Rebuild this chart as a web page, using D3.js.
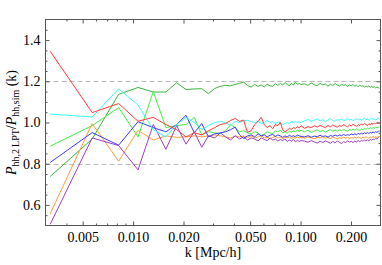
<!DOCTYPE html>
<html>
<head>
<meta charset="utf-8">
<script src="https://cdn.jsdelivr.net/npm/d3@7"></script>
<style>
  body { margin: 0; background: #fff; }
  svg text { font-family: "Liberation Serif", "DejaVu Serif", serif; }
</style>
</head>
<body>
<svg width="382" height="265"></svg>
<script>
// k bins [Mpc/h]
const kValues = [
  0.0032, 0.0057, 0.0082, 0.0107, 0.0132, 0.0157, 0.0182, 0.0207, 0.0232, 0.0257,
  0.0282, 0.0307, 0.0332, 0.0357, 0.0382, 0.0407, 0.0432, 0.0457, 0.0482, 0.0507,
  0.0532, 0.0557, 0.0582, 0.0607, 0.0632, 0.0657, 0.0682, 0.0707, 0.0732, 0.0757,
  0.0782, 0.0807, 0.0832, 0.0857, 0.0882, 0.0907, 0.0932, 0.0957, 0.0982, 0.1007,
  0.1057, 0.1107, 0.1157, 0.1207, 0.1257, 0.1307, 0.1357, 0.1407, 0.1457, 0.1507,
  0.1557, 0.1607, 0.1657, 0.1707, 0.1757, 0.1807, 0.1857, 0.1907, 0.1957, 0.2007,
  0.2057, 0.2107, 0.2157, 0.2207, 0.2257, 0.2307, 0.2357, 0.2407, 0.2457, 0.2507,
  0.2557, 0.2607, 0.2657, 0.2707, 0.2757, 0.2807, 0.2857, 0.2907, 0.2957
];

const ratioRed = [
  1.346, 1.048, 1.092, 1.006, 1.025, 0.990, 0.965, 0.930, 0.950, 0.940,
  0.960, 0.975, 0.990, 0.995, 1.010, 1.020, 1.005, 1.012, 0.952, 0.960,
  0.990, 1.005, 1.025, 0.990, 0.975, 0.985, 0.970, 0.990, 0.985, 1.000,
  0.965, 0.955, 0.962, 0.972, 0.966, 0.976, 0.970, 0.980, 0.974, 0.984,
  0.972, 0.980, 0.975, 0.984, 0.978, 0.986, 0.980, 0.975, 0.985, 0.979,
  0.988, 0.982, 0.977, 0.986, 0.981, 0.990, 0.984, 0.979, 0.988, 0.983,
  0.992, 0.986, 0.981, 0.990, 0.985, 0.993, 0.988, 0.996, 0.990, 0.985,
  0.994, 0.989, 0.997, 0.991, 0.998, 0.993, 1.000, 0.995, 0.998
];
const ratioCyan = [
  1.041, 1.027, 1.164, 1.085, 0.965, 0.930, 0.990, 1.025, 1.000, 0.965,
  0.985, 1.000, 1.005, 1.000, 0.985, 1.005, 1.000, 1.010, 1.010, 1.005,
  1.000, 1.005, 0.995, 1.000, 1.010, 1.000, 1.005, 0.995, 1.003, 1.000,
  0.990, 0.996, 1.000, 0.995, 1.005, 1.000, 1.006, 0.998, 1.004, 1.000,
  1.008, 1.015, 1.005, 1.012, 1.018, 1.008, 1.014, 1.004, 1.012, 1.019,
  1.010, 1.006, 1.015, 1.011, 1.017, 1.008, 1.013, 1.020, 1.011, 1.016,
  1.009, 1.014, 1.019, 1.012, 1.017, 1.010, 1.015, 1.021, 1.013, 1.018,
  1.011, 1.016, 1.022, 1.014, 1.019, 1.012, 1.017, 1.021, 1.016
];
const ratioDarkGreen = [
  0.738, 0.920, 1.137, 1.170, 1.148, 1.148, 1.193, 1.160, 1.163, 1.164,
  1.140, 1.165, 1.176, 1.180, 1.178, 1.185, 1.190, 1.196, 1.180, 1.172,
  1.185, 1.175, 1.183, 1.172, 1.186, 1.178, 1.176, 1.188, 1.180, 1.190,
  1.182, 1.194, 1.185, 1.178, 1.190, 1.182, 1.196, 1.185, 1.190, 1.184,
  1.188, 1.180, 1.192, 1.184, 1.178, 1.190, 1.183, 1.187, 1.176, 1.185,
  1.180, 1.189, 1.182, 1.177, 1.186, 1.180, 1.184, 1.175, 1.182, 1.178,
  1.185, 1.176, 1.181, 1.174, 1.180, 1.176, 1.179, 1.172, 1.177, 1.173,
  1.178, 1.171, 1.175, 1.170, 1.174, 1.168, 1.172, 1.169, 1.166
];
const ratioLightGreen = [
  0.885, 0.985, 1.072, 0.930, 1.150, 0.975, 0.985, 0.990, 1.025, 0.940,
  0.955, 0.950, 0.945, 0.960, 0.990, 0.975, 0.955, 0.960, 0.950, 0.945,
  0.955, 0.950, 0.935, 0.945, 0.955, 0.950, 0.945, 0.960, 0.955, 0.962,
  0.950, 0.955, 0.948, 0.958, 0.952, 0.960, 0.955, 0.963, 0.957, 0.962,
  0.955, 0.962, 0.952, 0.958, 0.964, 0.956, 0.961, 0.953, 0.960, 0.966,
  0.958, 0.963, 0.957, 0.965, 0.960, 0.967, 0.961, 0.958, 0.966, 0.962,
  0.968, 0.963, 0.970, 0.965, 0.961, 0.969, 0.966, 0.972, 0.967, 0.973,
  0.969, 0.975, 0.970, 0.976, 0.972, 0.978, 0.974, 0.977, 0.979
];
const ratioBlue = [
  0.806, 0.951, 0.890, 1.004, 0.975, 0.955, 0.990, 1.035, 0.950, 0.995,
  0.930, 0.945, 0.950, 0.955, 0.965, 0.978, 0.940, 0.922, 0.935, 0.940,
  0.930, 0.945, 0.935, 0.940, 0.930, 0.938, 0.942, 0.932, 0.940, 0.935,
  0.928, 0.935, 0.930, 0.938, 0.932, 0.936, 0.930, 0.940, 0.935, 0.932,
  0.930, 0.936, 0.928, 0.934, 0.931, 0.938, 0.932, 0.935, 0.929, 0.937,
  0.933, 0.939, 0.934, 0.940, 0.936, 0.942, 0.937, 0.941, 0.938, 0.944,
  0.940, 0.945, 0.941, 0.947, 0.943, 0.948, 0.944, 0.950, 0.946, 0.951,
  0.947, 0.952, 0.949, 0.954, 0.950, 0.955, 0.952, 0.957, 0.958
];
const ratioOrange = [
  0.557, 0.995, 0.812, 0.962, 0.915, 0.935, 0.928, 0.930, 0.935, 0.930,
  0.935, 0.940, 0.935, 0.930, 0.925, 0.935, 0.930, 0.935, 0.928, 0.935,
  0.925, 0.930, 0.935, 0.925, 0.930, 0.920, 0.928, 0.933, 0.925, 0.930,
  0.922, 0.928, 0.925, 0.930, 0.922, 0.927, 0.924, 0.930, 0.925, 0.928,
  0.924, 0.930, 0.926, 0.921, 0.928, 0.925, 0.931, 0.923, 0.927, 0.922,
  0.929, 0.925, 0.920, 0.927, 0.923, 0.929, 0.924, 0.928, 0.922, 0.927,
  0.924, 0.929, 0.925, 0.930, 0.926, 0.923, 0.929, 0.925, 0.931, 0.927,
  0.924, 0.930, 0.926, 0.932, 0.928, 0.931, 0.927, 0.932, 0.930
];
const ratioPurple = [
  0.506, 0.925, 0.888, 0.770, 0.990, 0.870, 0.985, 0.895, 0.955, 0.880,
  0.935, 0.925, 0.950, 0.930, 0.915, 0.935, 0.920, 0.930, 0.915, 0.925,
  0.920, 0.910, 0.925, 0.918, 0.912, 0.925, 0.915, 0.920, 0.910, 0.918,
  0.912, 0.920, 0.908, 0.915, 0.910, 0.918, 0.906, 0.914, 0.908, 0.912,
  0.910, 0.904, 0.912, 0.906, 0.900, 0.909, 0.903, 0.911, 0.905, 0.899,
  0.908, 0.902, 0.910, 0.904, 0.898, 0.907, 0.903, 0.911, 0.905, 0.909,
  0.903, 0.910, 0.906, 0.912, 0.907, 0.913, 0.909, 0.915, 0.910, 0.916,
  0.912, 0.918, 0.914, 0.920, 0.917, 0.923, 0.920, 0.926, 0.931
];

const seriesList = [ratioDarkGreen, ratioLightGreen, ratioOrange, ratioPurple, ratioBlue, ratioCyan, ratioRed];
const seriesColors = ['#3cb43c', '#44ee44', '#ff9c3c', '#a040c0', '#3c3cff', '#3cf8f8', '#ff3c3c'];

const xMajorTicks = [0.005, 0.01, 0.02, 0.05, 0.1, 0.2];
const xMinorTicks = [0.004, 0.006, 0.007, 0.008, 0.009, 0.03, 0.04, 0.06, 0.07, 0.08, 0.09];
const yMajorTicks = [0.6, 0.8, 1.0, 1.2, 1.4];
const yMinorTicks = [0.55, 0.65, 0.7, 0.75, 0.85, 0.9, 0.95, 1.05, 1.1, 1.15, 1.25, 1.3, 1.35, 1.45];
const dashedLevels = [0.8, 1.2];

const svg = d3.select('svg');
const pLeft = 45.5, pRight = 380.5, pTop = 19.5, pBottom = 225.5;

const x = d3.scaleLog().domain([0.003, 0.3]).range([pLeft, pRight]);
const y = d3.scaleLinear().domain([0.5, 1.5]).range([pBottom, pTop]);

svg.append('defs').append('clipPath').attr('id', 'plot-clip')
  .append('rect')
    .attr('x', pLeft).attr('y', pTop)
    .attr('width', pRight - pLeft).attr('height', pBottom - pTop);

// dashed reference lines
svg.append('g').selectAll('line')
  .data(dashedLevels)
  .join('line')
    .attr('x1', pLeft).attr('x2', pRight)
    .attr('y1', d => Math.round(y(d)) + 0.5)
    .attr('y2', d => Math.round(y(d)) + 0.5)
    .attr('stroke', '#bbbbbb')
    .attr('stroke-dasharray', '5,3');

// series
const line = d3.line()
  .x((d, i) => x(kValues[i]))
  .y(d => y(d));

svg.append('g').attr('clip-path', 'url(#plot-clip)')
  .selectAll('path')
  .data(seriesList)
  .join('path')
    .attr('d', line)
    .attr('fill', 'none')
    .attr('stroke', (d, i) => seriesColors[i])
    .attr('stroke-width', 1);

// frame with ticks on all four sides
const frameColor = '#555';

function styleAxis(g) {
  g.select('.domain').remove();
  g.selectAll('.tick line').attr('stroke', frameColor);
  g.selectAll('text').attr('fill', '#000').attr('font-size', 14)
    .attr('font-family', '"Liberation Serif", serif');
}

function addTicks(axisFn, scale, values, pos, len, labels) {
  const ax = axisFn(scale).tickValues(values).tickSize(0);
  ax.tickFormat(labels || '');
  const g = svg.append('g').attr('transform', pos).call(ax).call(styleAxis);
  return g;
}

const gx = addTicks(d3.axisBottom, x, xMajorTicks, `translate(0,${pBottom})`, 4, d3.format('.3f'));
gx.selectAll('.tick line').attr('y2', -4);
gx.selectAll('text').attr('dy', null).attr('y', 16);
addTicks(d3.axisBottom, x, xMinorTicks, `translate(0,${pBottom})`).selectAll('.tick line').attr('y2', -2);
addTicks(d3.axisTop, x, xMajorTicks, `translate(0,${pTop})`).selectAll('.tick line').attr('y2', 4);
addTicks(d3.axisTop, x, xMinorTicks, `translate(0,${pTop})`).selectAll('.tick line').attr('y2', 2);

const gy = addTicks(d3.axisLeft, y, yMajorTicks, `translate(${pLeft},0)`, 4, d3.format('.1f'));
gy.selectAll('.tick line').attr('x2', 4);
gy.selectAll('text').attr('x', -5);
addTicks(d3.axisLeft, y, yMinorTicks, `translate(${pLeft},0)`).selectAll('.tick line').attr('x2', 2);
addTicks(d3.axisRight, y, yMajorTicks, `translate(${pRight},0)`).selectAll('.tick line').attr('x2', -4);
addTicks(d3.axisRight, y, yMinorTicks, `translate(${pRight},0)`).selectAll('.tick line').attr('x2', -2);

svg.append('rect')
  .attr('x', pLeft).attr('y', pTop)
  .attr('width', pRight - pLeft).attr('height', pBottom - pTop)
  .attr('fill', 'none')
  .attr('stroke', frameColor);

// axis titles
svg.append('text')
  .attr('x', (pLeft + pRight) / 2)
  .attr('y', 257)
  .attr('text-anchor', 'middle')
  .attr('font-size', 14)
  .text('k [Mpc/h]');

const ylab = svg.append('text')
  .attr('transform', `translate(16,${(pTop + pBottom) / 2}) rotate(-90)`)
  .attr('text-anchor', 'middle')
  .attr('font-size', 14);
ylab.append('tspan').attr('font-style', 'italic').text('P');
ylab.append('tspan').attr('font-size', 10).attr('dy', 3).text('hh,2\u2009LPT');
ylab.append('tspan').attr('dy', -3).text('/');
ylab.append('tspan').attr('font-style', 'italic').text('P');
ylab.append('tspan').attr('font-size', 10).attr('dy', 3).text('hh,sim');
ylab.append('tspan').attr('dy', -3).text(' (k)');
</script>
</body>
</html>
